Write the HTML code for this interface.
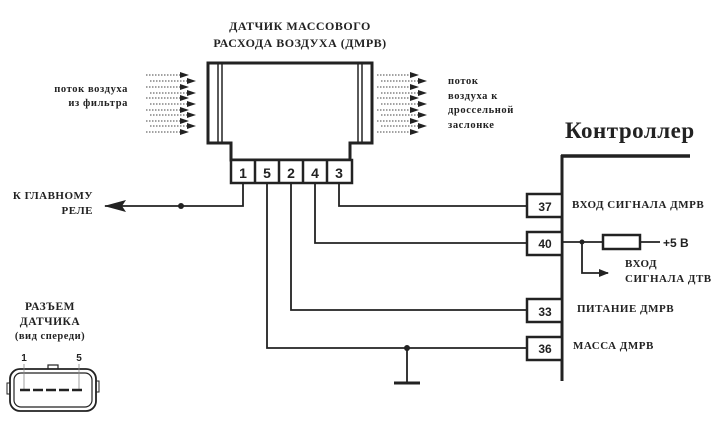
<!DOCTYPE html>
<html><head><meta charset="utf-8"><style>
html,body{margin:0;padding:0;background:#fff;}
svg{display:block;}
.s{font-family:"Liberation Serif","Noto Serif CJK SC",serif;font-weight:bold;fill:#222;}
.n{font-family:"Liberation Sans",sans-serif;font-weight:bold;fill:#222;}
</style></head><body>
<svg width="724" height="424" viewBox="0 0 724 424" xmlns="http://www.w3.org/2000/svg">
<defs>
<marker id="ah" markerWidth="10" markerHeight="8" refX="9" refY="4" orient="auto" markerUnits="userSpaceOnUse">
<path d="M0,0 L10,4 L0,8 Z" fill="#222"/></marker>
<marker id="big" markerWidth="22" markerHeight="12" refX="21" refY="6" orient="auto" markerUnits="userSpaceOnUse">
<path d="M0,0 L22,6 L0,12 L4,6 Z" fill="#222"/></marker>
</defs>
<text class="s" x="300" y="30" font-size="12" text-anchor="middle" letter-spacing="0.5">ДАТЧИК МАССОВОГО</text>
<text class="s" x="300" y="47" font-size="12" text-anchor="middle" letter-spacing="0.5">РАСХОДА ВОЗДУХА (ДМРВ)</text>
<path d="M208,63 H372 V143 H350 V160 H231 V143 H208 Z" fill="#fff" stroke="#222" stroke-width="3"/>
<line x1="218" y1="64" x2="218" y2="142" stroke="#222" stroke-width="1.5"/>
<line x1="222" y1="64" x2="222" y2="142" stroke="#222" stroke-width="1.5"/>
<line x1="358" y1="64" x2="358" y2="142" stroke="#222" stroke-width="1.5"/>
<line x1="362" y1="64" x2="362" y2="142" stroke="#222" stroke-width="1.5"/>
<g stroke="#222" stroke-width="2.5" fill="#fff">
<rect x="231" y="160" width="121" height="23"/>
<line x1="255" y1="160" x2="255" y2="183"/><line x1="279" y1="160" x2="279" y2="183"/>
<line x1="303" y1="160" x2="303" y2="183"/><line x1="327" y1="160" x2="327" y2="183"/>
</g>
<g class="n" font-size="14" text-anchor="middle">
<text x="243" y="178">1</text><text x="267" y="178">5</text><text x="291" y="178">2</text><text x="315" y="178">4</text><text x="339" y="178">3</text>
</g>
<g stroke="#444" stroke-width="1" stroke-dasharray="1.5,1.5" fill="none">
<line x1="146" y1="75" x2="180" y2="75"/><line x1="150" y1="81" x2="187" y2="81"/>
<line x1="146" y1="87" x2="180" y2="87"/><line x1="150" y1="93" x2="187" y2="93"/>
<line x1="146" y1="98" x2="180" y2="98"/><line x1="150" y1="104" x2="187" y2="104"/>
<line x1="146" y1="110" x2="180" y2="110"/><line x1="150" y1="115" x2="187" y2="115"/>
<line x1="146" y1="121" x2="180" y2="121"/><line x1="150" y1="126" x2="187" y2="126"/>
<line x1="146" y1="132" x2="180" y2="132"/>
<line x1="377" y1="75" x2="410" y2="75"/><line x1="381" y1="81" x2="418" y2="81"/>
<line x1="377" y1="87" x2="410" y2="87"/><line x1="381" y1="93" x2="418" y2="93"/>
<line x1="377" y1="98" x2="410" y2="98"/><line x1="381" y1="104" x2="418" y2="104"/>
<line x1="377" y1="110" x2="410" y2="110"/><line x1="381" y1="115" x2="418" y2="115"/>
<line x1="377" y1="121" x2="410" y2="121"/><line x1="381" y1="126" x2="418" y2="126"/>
<line x1="377" y1="132" x2="410" y2="132"/>
</g>
<g fill="#222">
<path d="M180,72 l9,3 l-9,3z"/><path d="M187,78 l9,3 l-9,3z"/><path d="M180,84 l9,3 l-9,3z"/><path d="M187,90 l9,3 l-9,3z"/>
<path d="M180,95 l9,3 l-9,3z"/><path d="M187,101 l9,3 l-9,3z"/><path d="M180,107 l9,3 l-9,3z"/><path d="M187,112 l9,3 l-9,3z"/>
<path d="M180,118 l9,3 l-9,3z"/><path d="M187,123 l9,3 l-9,3z"/><path d="M180,129 l9,3 l-9,3z"/>
<path d="M410,72 l9,3 l-9,3z"/><path d="M418,78 l9,3 l-9,3z"/><path d="M410,84 l9,3 l-9,3z"/><path d="M418,90 l9,3 l-9,3z"/>
<path d="M410,95 l9,3 l-9,3z"/><path d="M418,101 l9,3 l-9,3z"/><path d="M410,107 l9,3 l-9,3z"/><path d="M418,112 l9,3 l-9,3z"/>
<path d="M410,118 l9,3 l-9,3z"/><path d="M418,123 l9,3 l-9,3z"/><path d="M410,129 l9,3 l-9,3z"/>
</g>
<g class="s" font-size="10.5" letter-spacing="0.6">
<text x="128" y="92" text-anchor="end">поток воздуха</text>
<text x="128" y="106" text-anchor="end">из фильтра</text>
<text x="448" y="84">поток</text>
<text x="448" y="99">воздуха к</text>
<text x="448" y="113">дроссельной</text>
<text x="448" y="128">заслонке</text>
</g>
<g stroke="#222" stroke-width="1.8" fill="none">
<polyline points="243,183 243,206 105,206" marker-end="url(#big)"/>
<polyline points="267,183 267,348 527,348"/>
<polyline points="291,183 291,310 527,310"/>
<polyline points="315,183 315,243 527,243"/>
<polyline points="339,183 339,206 527,206"/>
<line x1="407" y1="348" x2="407" y2="382"/>
<line x1="394" y1="383" x2="420" y2="383" stroke-width="3"/>
</g>
<circle cx="181" cy="206" r="3" fill="#222"/>
<circle cx="407" cy="348" r="3" fill="#222"/>
<text class="s" x="93" y="199" font-size="11" text-anchor="end" letter-spacing="0.5">К ГЛАВНОМУ</text>
<text class="s" x="93" y="214" font-size="11" text-anchor="end" letter-spacing="0.5">РЕЛЕ</text>
<text class="s" x="565" y="138" font-size="23" letter-spacing="0.5">Контроллер</text>
<line x1="562" y1="155" x2="562" y2="381" stroke="#222" stroke-width="3"/>
<line x1="561" y1="156" x2="690" y2="156" stroke="#222" stroke-width="3.5"/>
<g stroke="#222" stroke-width="2.5" fill="#fff">
<rect x="527" y="194" width="35" height="23"/>
<rect x="527" y="232" width="35" height="23"/>
<rect x="527" y="299" width="35" height="23"/>
<rect x="527" y="337" width="35" height="23"/>
</g>
<g class="n" font-size="12" text-anchor="middle">
<text x="545" y="211">37</text><text x="545" y="248">40</text><text x="545" y="316">33</text><text x="545" y="353">36</text>
</g>
<g stroke="#222" stroke-width="1.8" fill="none">
<line x1="563" y1="242" x2="602" y2="242"/>
<rect x="603" y="235" width="37" height="14" stroke-width="2.5"/>
<line x1="640" y1="242" x2="660" y2="242"/>
<polyline points="582,242 582,273 608,273" marker-end="url(#ah)"/>
</g>
<circle cx="582" cy="242" r="2.5" fill="#222"/>
<text class="n" x="663" y="247" font-size="12" font-weight="normal">+5 В</text>
<g class="s" font-size="11" letter-spacing="0.5">
<text x="572" y="208">ВХОД СИГНАЛА ДМРВ</text>
<text x="625" y="267">ВХОД</text>
<text x="625" y="282">СИГНАЛА ДТВ</text>
<text x="577" y="312">ПИТАНИЕ ДМРВ</text>
<text x="573" y="349">МАССА ДМРВ</text>
</g>
<g class="s" font-size="11.5" text-anchor="middle" letter-spacing="0.5">
<text x="50" y="310">РАЗЪЕМ</text>
<text x="50" y="325">ДАТЧИКА</text>
<text x="50" y="339" font-size="10.5">(вид спереди)</text>
</g>
<text class="n" x="24" y="361" font-size="10" text-anchor="middle" font-weight="normal">1</text>
<text class="n" x="79" y="361" font-size="10" text-anchor="middle" font-weight="normal">5</text>
<g stroke="#222" fill="#fff">
<rect x="48" y="365" width="10" height="6" stroke-width="1.2"/>
<rect x="7" y="383" width="4" height="11" stroke-width="1"/>
<rect x="95" y="381" width="4" height="11" stroke-width="1"/>
<rect x="10" y="369" width="86" height="42" rx="10" stroke-width="1.8"/>
<rect x="14" y="373" width="78" height="34" rx="7" stroke-width="1.2"/>
</g>
<line x1="24" y1="364" x2="24" y2="389" stroke="#888" stroke-width="0.8"/>
<line x1="79" y1="364" x2="79" y2="389" stroke="#888" stroke-width="0.8"/>
<line x1="20" y1="390" x2="84" y2="390" stroke="#222" stroke-width="2.5" stroke-dasharray="10,3"/>
</svg>
</body></html>
